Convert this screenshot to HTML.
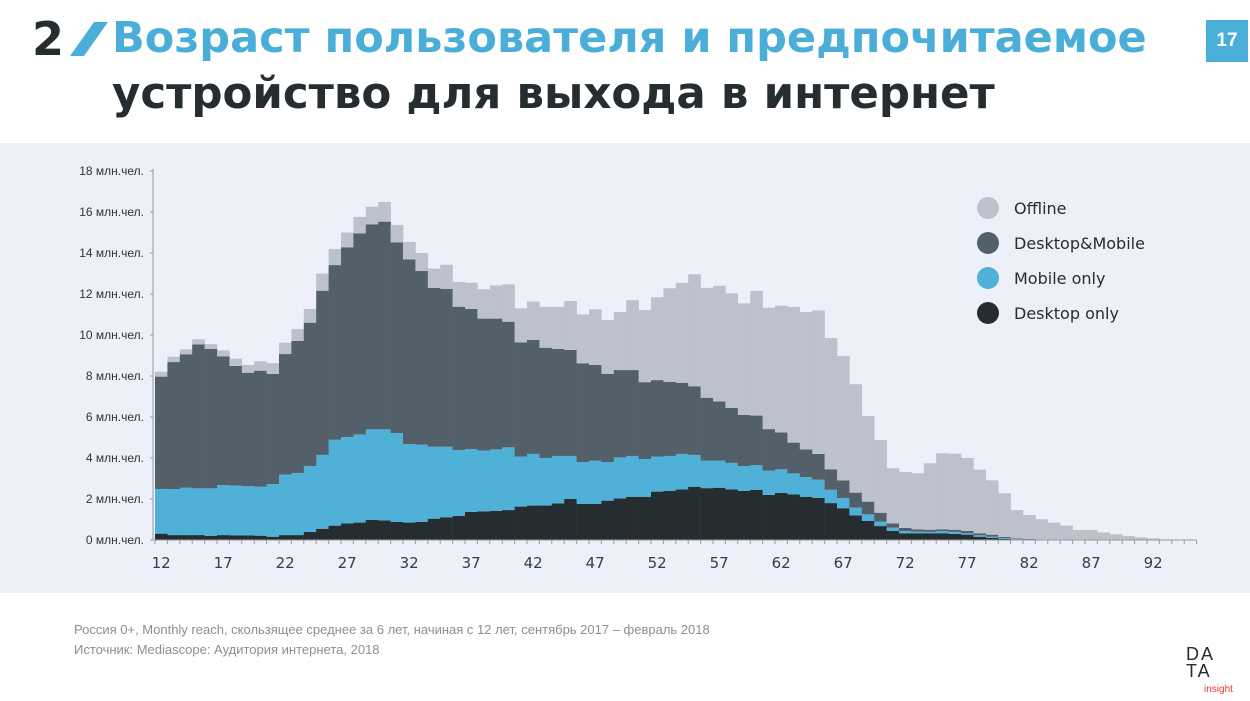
<!DOCTYPE html>
<html><head><meta charset="utf-8">
<style>
body{margin:0;width:1250px;height:701px;background:#fff;font-family:"Liberation Sans","DejaVu Sans",sans-serif;position:relative;overflow:hidden}
.t{position:absolute;white-space:nowrap;font-family:"DejaVu Sans","Liberation Sans",sans-serif;font-weight:bold}
</style></head><body>
<div class="t" style="left:32px;top:12px;font-size:46px;color:#262d31">2</div>
<svg style="position:absolute;left:70px;top:20px" width="40" height="40"><polygon points="24,2 38,2 14,36 0,36" fill="#4aaed9"/></svg>
<div class="t" style="left:112px;top:13px;font-size:43px;color:#4aaed9">Возраст пользователя и предпочитаемое</div>
<div class="t" style="left:112px;top:69px;font-size:43.5px;color:#262d31">устройство для выхода в интернет</div>
<div style="position:absolute;left:1206px;top:20px;width:42px;height:42px;background:#4aaed9;color:#fff;font-weight:bold;font-size:19px;text-align:center;line-height:42px">17</div>
<div style="position:absolute;left:0;top:143px;width:1250px;height:450px;background:#edf0f8"></div>
<svg id="chart" style="position:absolute;left:0;top:0" width="1250" height="701"></svg>
<div style="position:absolute;left:74px;top:622px;font-size:13px;color:#8a8f96">Россия 0+, Monthly reach, скользящее среднее за 6 лет, начиная с 12 лет, сентябрь 2017 – февраль 2018</div>
<div style="position:absolute;left:74px;top:642px;font-size:13px;color:#8a8f96">Источник: Mediascope: Аудитория интернета, 2018</div>
<div style="position:absolute;left:1186px;top:646px;width:60px;font-size:18px;line-height:17px;color:#262d31;letter-spacing:2px">DA<br>TA<div style="position:absolute;left:18px;top:35px;font-size:10px;color:#e33;letter-spacing:0">insight</div></div>
<script>
const ages=[];for(let a=12;a<=95;a++)ages.push(a);
const desktopOnly=[.31,.24,.24,.24,.20,.24,.22,.22,.21,.16,.24,.24,.39,.55,.70,.81,.85,.98,.95,.88,.85,.88,1.04,1.11,1.17,1.37,1.40,1.42,1.46,1.63,1.68,1.68,1.79,2.00,1.76,1.76,1.92,2.03,2.11,2.11,2.36,2.40,2.47,2.60,2.53,2.55,2.47,2.40,2.45,2.20,2.30,2.22,2.11,2.06,1.80,1.55,1.20,.93,.68,.45,.33,.33,.33,.33,.30,.26,.16,.10,.05,.03,.02,.01,0,0,0,0,0,0,0,0,0,0,0,0];
const mobileOnly=[2.18,2.24,2.31,2.28,2.32,2.44,2.44,2.41,2.39,2.57,2.95,3.03,3.22,3.60,4.19,4.21,4.30,4.42,4.45,4.34,3.83,3.77,3.51,3.44,3.22,3.07,2.96,3.00,3.06,2.44,2.52,2.32,2.31,2.10,2.04,2.11,1.88,2.00,1.99,1.84,1.71,1.70,1.73,1.55,1.34,1.32,1.29,1.20,1.20,1.18,1.15,1.03,.96,.88,.65,.50,.38,.32,.21,.15,.11,.08,.07,.11,.10,.07,.07,.06,.05,.02,.01,.01,0,0,0,0,0,0,0,0,0,0,0,0];
const desktopMobile=[5.48,6.20,6.51,7.02,6.80,6.28,5.83,5.53,5.66,5.37,5.88,6.44,6.99,8.01,8.52,9.26,9.81,10.00,10.13,9.30,9.01,8.47,7.75,7.70,6.99,6.83,6.44,6.38,6.13,5.57,5.56,5.38,5.22,5.17,4.82,4.67,4.30,4.26,4.19,3.75,3.73,3.62,3.47,3.35,3.07,2.89,2.68,2.50,2.42,2.03,1.80,1.50,1.35,1.26,1.00,.86,.73,.62,.44,.21,.15,.11,.10,.08,.10,.11,.10,.10,.05,.03,.02,.01,0,0,0,0,0,0,0,0,0,0,0,0];
const offline=[.24,.26,.24,.25,.24,.29,.36,.38,.46,.53,.56,.58,.67,.84,.79,.72,.80,.86,.96,.85,.85,.88,.94,1.18,1.21,1.28,1.43,1.62,1.82,1.66,1.87,1.99,2.05,2.39,2.38,2.71,2.63,2.83,3.41,3.52,4.04,4.56,4.87,5.46,5.36,5.64,5.59,5.44,6.08,5.92,6.18,6.62,6.70,7.00,6.40,6.07,5.29,4.18,3.55,2.69,2.73,2.73,3.24,3.71,3.71,3.56,3.10,2.65,2.13,1.38,1.17,.98,.85,.70,.49,.49,.37,.28,.20,.13,.08,.03,.02,.01];
const yTicks=[0,2,4,6,8,10,12,14,16,18];
const xTicks=[12,17,22,27,32,37,42,47,52,57,62,67,72,77,82,87,92];
const legendNames=["Offline","Desktop&Mobile","Mobile only","Desktop only"];
const colors=["#bcc1cc","#535f69","#4fb0d8","#262d31"];
const X0=155,BW=12.4,Y0=540,PU=20.5;
const x=a=>X0+(a-12)*BW;
const y=v=>Y0-v*PU;
const svg=document.getElementById('chart');const NS='http://www.w3.org/2000/svg';
function mk(t,at){const e=document.createElementNS(NS,t);for(const k in at)e.setAttribute(k,at[k]);svg.appendChild(e);return e;}
const series=[desktopOnly,mobileOnly,desktopMobile,offline];
const sc=[colors[3],colors[2],colors[1],colors[0]];
const sn=['desktop-only','mobile-only','desktop-mobile','offline'];
ages.forEach((a,i)=>{let base=0;series.forEach((s,j)=>{const v=s[i];if(v>0){const r=mk('rect',{x:x(a),y:y(base+v),width:BW+0.3,height:v*PU,fill:sc[j]});

}base+=v;});});
const ax=mk('line',{x1:153,y1:y(18)-2,x2:153,y2:Y0,stroke:'#999','stroke-width':1});


const bx=mk('line',{x1:153,y1:Y0,x2:1196,y2:Y0,stroke:'#999','stroke-width':1});


yTicks.forEach(v=>{mk('line',{x1:150,x2:153,y1:y(v),y2:y(v),stroke:'#999'});
const t=mk('text',{x:144,y:y(v)+4,'text-anchor':'end','font-size':12,fill:'#333','font-family':'Liberation Sans, sans-serif'});t.textContent=v+' млн.чел.';

});
ages.concat([96]).forEach(a=>mk('line',{x1:x(a),x2:x(a),y1:Y0,y2:Y0+4,stroke:'#999'}));
xTicks.forEach(a=>{const t=mk('text',{x:x(a)+BW/2,y:568,'text-anchor':'middle','font-size':15,fill:'#2c3e50','font-family':'DejaVu Sans, sans-serif'});t.textContent=a;

});
legendNames.forEach((n,i)=>{const c=mk('circle',{cx:988,cy:208+i*35,r:11,fill:colors[i]});


const t=mk('text',{x:1014,y:214+i*35,'font-size':16,fill:'#262d31','font-family':'DejaVu Sans, sans-serif'});t.textContent=n;

});
</script>
</body></html>
